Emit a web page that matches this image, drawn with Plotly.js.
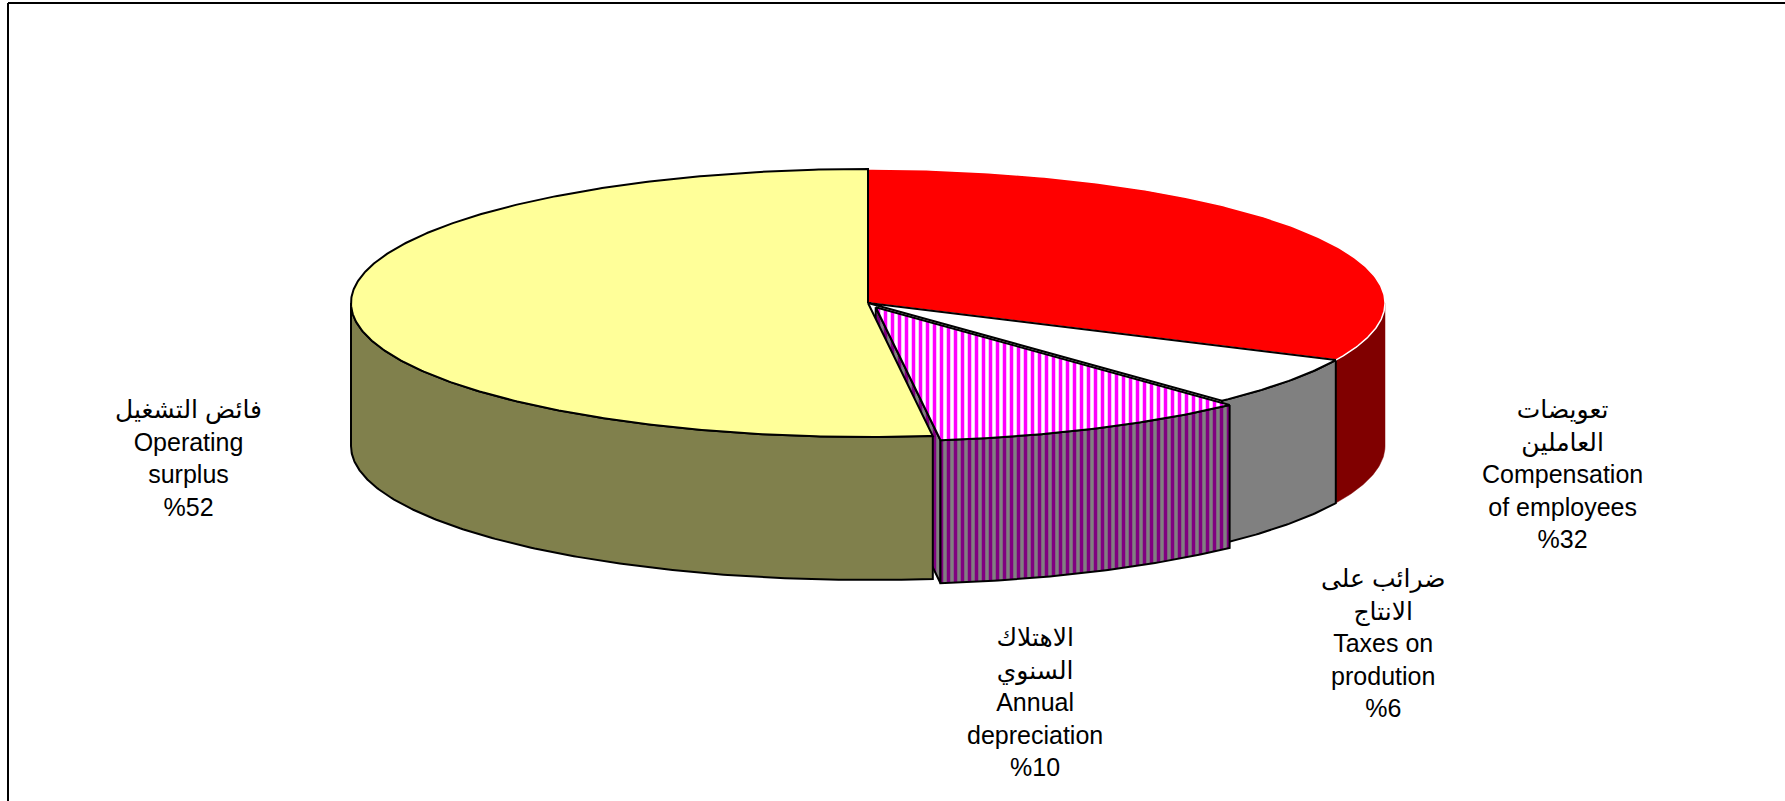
<!DOCTYPE html>
<html>
<head>
<meta charset="utf-8">
<script src="https://cdn.plot.ly/plotly-3.0.1.min.js"></script>
<style>html,body{margin:0;padding:0;background:#fff;}#chart{width:1785px;height:801px;}</style>
</head>
<body>
<div id="chart"></div>
<script>
// ---- data (clockwise from 12 o'clock) ----
const categoriesEn = ['Compensation<br>of employees', 'Taxes on<br>prodution', 'Annual<br>depreciation', 'Operating<br>surplus'];
const categoriesAr = ['تعويضات<br>العاملين', 'ضرائب على<br>الانتاج', 'الاهتلاك<br>السنوي', 'فائض التشغيل'];
const values = [32, 6, 10, 52];

// ---- styles ----
const topColors  = ['#FF0000', '#FFFFFF', null, '#FFFF99'];
const sideColors = ['#800000', '#808080', null, '#80804C'];
const lineColors = ['#FFFFFF', '#000000', '#000000', '#000000'];
const explode = [0, 0, 0.035, 0];
const labelPos = [[1562, 474], [1383, 643], [1035, 702], [188, 458]];

// pie geometry in pixel space
const cx = 868, cy = 303, rx = 517, ry = 134, depth = 143;

function pt(th, dx, dy, z) {
  const r = th * Math.PI / 180;
  return [cx + rx * Math.sin(r) + dx, cy - ry * Math.cos(r) + dy + z];
}
function arc(a, b, dx, dy, z) {
  const pts = [];
  const n = Math.max(2, Math.ceil(Math.abs(b - a) / 0.5));
  for (let i = 0; i <= n; i++) pts.push(pt(a + (b - a) * i / n, dx, dy, z));
  return pts;
}
function poly(pts, fill, line, lw, pattern) {
  const t = {
    type: 'scatter', mode: 'lines',
    x: pts.map(p => p[0]).concat([pts[0][0]]),
    y: pts.map(p => p[1]).concat([pts[0][1]]),
    fill: 'toself', fillcolor: fill || 'rgba(0,0,0,0)',
    line: {color: line, width: lw},
    hoverinfo: 'skip', showlegend: false
  };
  if (pattern) t.fillpattern = pattern;
  return t;
}

const total = values.reduce((s, v) => s + v, 0);
const slices = [];
let acc = 0;
values.forEach((v, i) => {
  const a = acc / total * 360, b = (acc + v) / total * 360;
  acc += v;
  const mid = (a + b) / 2 * Math.PI / 180;
  const dx = explode[i] * rx * Math.sin(mid), dy = -explode[i] * ry * Math.cos(mid);
  slices.push({a, b, dx, dy, i});
});

const patTop  = {shape: '|', fgcolor: '#FF00FF', bgcolor: '#FFFFFF', size: 7, solidity: 0.5, fillmode: 'replace'};
const patSide = {shape: '|', fgcolor: '#800080', bgcolor: '#808080', size: 7, solidity: 0.5, fillmode: 'replace'};

function topTrace(s) {
  const c = [cx + s.dx, cy + s.dy];
  const pts = [c].concat(arc(s.a, s.b, s.dx, s.dy, 0));
  const pat = topColors[s.i] ? null : patTop;
  return poly(pts, topColors[s.i] || '#FF00FF', lineColors[s.i], s.i === 0 ? 1.5 : 2, pat);
}
function sideTrace(s) {
  const a = Math.max(s.a, 90), b = Math.min(s.b, 270);
  if (b <= a) return null;
  const pts = arc(a, b, s.dx, s.dy, 0).concat(arc(b, a, s.dx, s.dy, depth));
  const pat = sideColors[s.i] ? null : patSide;
  return poly(pts, sideColors[s.i] || '#800080', s.i === 0 ? sideColors[0] : '#000000', s.i === 0 ? 0.5 : 2, pat);
}
function wallTrace(s, th) {
  const c0 = [cx + s.dx, cy + s.dy], c1 = [cx + s.dx, cy + s.dy + depth];
  const pts = [c0, pt(th, s.dx, s.dy, 0), pt(th, s.dx, s.dy, depth), c1];
  return poly(pts, '#800080', '#000000', 2, patSide);
}

const traces = [];
const exploded = slices.filter(s => explode[s.i] > 0);
const flat = slices.filter(s => explode[s.i] === 0);
exploded.forEach(s => traces.push(wallTrace(s, s.b)));
flat.forEach(s => { const t = sideTrace(s); if (t) traces.push(t); });
flat.forEach(s => traces.push(topTrace(s)));
exploded.forEach(s => { const t = sideTrace(s); if (t) traces.push(t); traces.push(topTrace(s)); });

const annotations = slices.map(s => ({
  x: labelPos[s.i][0], y: labelPos[s.i][1], xref: 'x', yref: 'y',
  text: categoriesAr[s.i] + '<br>' + categoriesEn[s.i] + '<br>%' + values[s.i],
  showarrow: false, xanchor: 'center', yanchor: 'middle', align: 'center',
  font: {family: 'Liberation Sans, Arial, DejaVu Sans, sans-serif', size: 25, color: '#000'}
}));

const layout = {
  width: 1785, height: 801,
  margin: {l: 0, r: 0, t: 0, b: 0},
  paper_bgcolor: '#FFFFFF', plot_bgcolor: '#FFFFFF',
  xaxis: {range: [0, 1785], visible: false, fixedrange: true},
  yaxis: {range: [801, 0], visible: false, fixedrange: true},
  showlegend: false,
  annotations: annotations,
  shapes: [
    {type: 'line', xref: 'paper', yref: 'paper', x0: 8 / 1785, x1: 8 / 1785, y0: 0, y1: 1 - 3 / 801, line: {color: '#000', width: 2}},
    {type: 'line', xref: 'paper', yref: 'paper', x0: 8 / 1785, x1: 1, y0: 1 - 3 / 801, y1: 1 - 3 / 801, line: {color: '#000', width: 2}}
  ]
};

Plotly.newPlot('chart', traces, layout, {staticPlot: true, displayModeBar: false});
</script>
</body>
</html>
